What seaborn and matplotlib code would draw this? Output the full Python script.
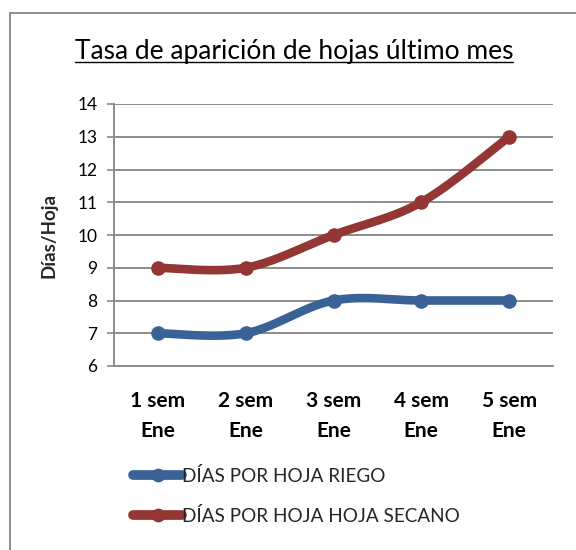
import numpy as np
import pandas as pd
import seaborn as sns
import matplotlib
matplotlib.use("Agg")
import matplotlib.pyplot as plt
from matplotlib.lines import Line2D

categories = ["1 sem\nEne", "2 sem\nEne", "3 sem\nEne", "4 sem\nEne", "5 sem\nEne"]
riego = [7, 7, 8, 8, 8]
secano = [9, 9, 10, 11, 13]
series_names = ["DÍAS POR HOJA RIEGO", "DÍAS POR HOJA HOJA SECANO"]
colors = ["#3A6296", "#943634"]
yticks = [6, 7, 8, 9, 10, 11, 12, 13, 14]

sns.set_theme(style="white")
FONT = ["Lato", "DejaVu Sans"]
plt.rcParams["font.family"] = FONT

W, H = 576, 550
fig = plt.figure(figsize=(W / 100, H / 100), dpi=100)
ax = fig.add_axes([114 / W, 1 - 366 / H, (553 - 114) / W, (366 - 104) / H])


def smooth(xs, ys, n=40):
    """Excel-like Catmull-Rom (Bezier) smoothing of the series."""
    P = np.column_stack([xs, ys]).astype(float)
    Pe = np.vstack([P[0], P, P[-1]])
    out = []
    t = np.linspace(0, 1, n)[:, None]
    for i in range(len(P) - 1):
        p0, p3 = Pe[i + 1], Pe[i + 2]
        c1 = p0 + (Pe[i + 2] - Pe[i]) / 6
        c2 = p3 - (Pe[i + 3] - Pe[i + 1]) / 6
        seg = ((1 - t) ** 3) * p0 + 3 * ((1 - t) ** 2) * t * c1 + 3 * (1 - t) * t ** 2 * c2 + t ** 3 * p3
        out.append(seg if i == 0 else seg[1:])
    return np.vstack(out)


xpos = np.arange(len(categories))
lw = 6.2
ms = 10.5
handles = []
for vals, name, col in zip([riego, secano], series_names, colors):
    curve = smooth(xpos, vals)
    df = pd.DataFrame({"x": curve[:, 0], "y": curve[:, 1]})
    sns.lineplot(data=df, x="x", y="y", ax=ax, color=col, linewidth=lw,
                 sort=False, estimator=None, solid_capstyle="round", zorder=3)
    pts = pd.DataFrame({"x": xpos, "y": vals})
    sns.scatterplot(data=pts, x="x", y="y", ax=ax, color=col, s=ms ** 2,
                    edgecolor=col, linewidth=0, zorder=4)
    handles.append(Line2D([0], [0], color=col, lw=7, marker="o", ms=ms * 0.85,
                          solid_capstyle="round"))

ax.set_xlim(-0.5, len(categories) - 0.5)
ax.set_ylim(6, 14)
ax.set_yticks(yticks)
ax.set_yticklabels([str(v) for v in yticks], fontsize=12.5, color="#000000")
ax.set_xticks(xpos)
ax.set_xticklabels(categories, fontsize=15, fontweight="bold", color="#000000",
                   linespacing=1.6)
ax.set_xticks(np.arange(-0.5, len(categories), 1.0), minor=True)
ax.tick_params(axis="x", which="major", length=0, pad=18)
ax.tick_params(axis="x", which="minor", length=5, width=1.2, color="#888888", direction="out")
ax.tick_params(axis="y", which="major", length=5, width=1.2, color="#888888",
               direction="out", pad=7, left=True)
ax.set_xlabel("")
ax.set_ylabel("Días/Hoja", fontsize=13.5, fontweight="bold", labelpad=14)
ax.yaxis.grid(True, color="#8c8c8c", linewidth=1.4)
ax.xaxis.grid(False)
for s in ["top", "right"]:
    ax.spines[s].set_visible(False)
for s in ["left", "bottom"]:
    ax.spines[s].set_color("#8c8c8c")
    ax.spines[s].set_linewidth(1.4)
ax.set_axisbelow(True)

# title with underline
title = fig.text(294 / W, 1 - 51 / H, "Tasa de aparición de hojas último mes",
                 ha="center", va="center", fontsize=19, color="#000000")

leg = fig.legend(handles, series_names, loc="upper left",
                 bbox_to_anchor=(133 / W, 1 - 467 / H), frameon=False,
                 fontsize=13.6, handlelength=2.6, handletextpad=0.0,
                 labelspacing=1.15, borderaxespad=0, borderpad=0)

# outer chart frame (extends past the image edge)
fig.add_artist(Line2D([9.5 / W, 9.5 / W], [0, 1 - 13 / H], color="#8c8c8c", lw=1.4,
                      transform=fig.transFigure))
fig.add_artist(Line2D([9.5 / W, 1], [1 - 13 / H, 1 - 13 / H], color="#8c8c8c", lw=1.4,
                      transform=fig.transFigure))

fig.canvas.draw()
bb = title.get_window_extent().transformed(fig.transFigure.inverted())
uy = bb.y0 + 0.002
fig.add_artist(Line2D([bb.x0, bb.x1], [uy, uy], color="#000000", lw=1.0,
                      transform=fig.transFigure))

fig.savefig("out.png", dpi=100)
